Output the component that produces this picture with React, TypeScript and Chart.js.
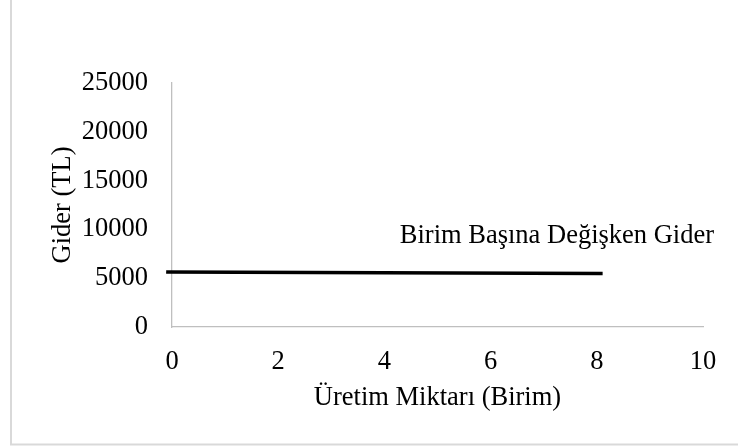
import React, { useEffect, useRef } from "react";
import { Chart, registerables } from "chart.js";

Chart.register(...registerables);

const seriesName = "Birim Başına Değişken Gider";
const xValues = [-0.11, 8.11];
const yValues = [5630, 5485];
const xTicks = [0, 2, 4, 6, 8, 10];
const yTicks = [0, 5000, 10000, 15000, 20000, 25000];
const xTitle = "Üretim Miktarı (Birim)";
const yTitle = "Gider (TL)";
const labelAt = { x: 4.29, y: 9350 };

const FONT = "'Liberation Serif', 'Times New Roman', serif";
const FS = 26.5;

export default function App() {
  const ref = useRef<HTMLCanvasElement | null>(null);
  useEffect(() => {
    if (!ref.current) return;
    const annotation = {
      id: "annot",
      beforeDraw(chart: any) {
        const ctx = chart.ctx;
        ctx.save();
        ctx.strokeStyle = "#d9d9d9";
        ctx.lineWidth = 2;
        ctx.beginPath();
        ctx.moveTo(11, 0);
        ctx.lineTo(11, 444.5);
        ctx.lineTo(738, 444.5);
        ctx.stroke();
        ctx.restore();
      },
      afterDatasetsDraw(chart: any) {
        const ctx = chart.ctx;
        const xs = chart.scales.x;
        const ys = chart.scales.y;
        ctx.save();
        ctx.font = `${FS}px ${FONT}`;
        ctx.fillStyle = "#000";
        ctx.textAlign = "left";
        ctx.textBaseline = "middle";
        ctx.fillText(seriesName, xs.getPixelForValue(labelAt.x), ys.getPixelForValue(labelAt.y));
        ctx.restore();
      },
    };
    const chart = new Chart(ref.current, {
      type: "scatter",
      data: {
        datasets: [
          {
            label: seriesName,
            data: xValues.map((x, i) => ({ x, y: yValues[i] })),
            showLine: true,
            borderColor: "#000",
            borderWidth: 3.5,
            pointRadius: 0,
            clip: false as any,
          },
        ],
      },
      options: {
        animation: false,
        responsive: false,
        layout: { padding: { left: 47, right: 35, top: 83, bottom: 34 } },
        plugins: { legend: { display: false }, tooltip: { enabled: false } },
        scales: {
          x: {
            type: "linear",
            min: 0,
            max: 10,
            afterBuildTicks: (s: any) => {
              s.ticks = xTicks.map((v) => ({ value: v }));
            },
            afterFit: (s: any) => {
              s.height = 448 - 34 - 327;
            },
            grid: { display: false, drawTicks: false },
            border: { display: true, color: "#bfbfbf", width: 1.3 },
            ticks: {
              color: "#000",
              font: { family: FONT, size: FS },
              padding: 19,
              callback: (v: any) => String(v),
            },
            title: {
              display: true,
              text: xTitle,
              color: "#000",
              font: { family: FONT, size: FS },
              padding: 0,
            },
          },
          y: {
            type: "linear",
            min: 0,
            max: 25000,
            afterBuildTicks: (s: any) => {
              s.ticks = yTicks.map((v) => ({ value: v }));
            },
            afterFit: (s: any) => {
              s.width = 172 - 47;
            },
            grid: { display: false, drawTicks: false },
            border: { display: true, color: "#bfbfbf", width: 1.3 },
            ticks: {
              color: "#000",
              font: { family: FONT, size: FS },
              padding: 24,
              callback: (v: any) => String(v),
            },
            title: {
              display: true,
              text: yTitle,
              color: "#000",
              font: { family: FONT, size: FS },
              padding: 0,
            },
          },
        },
      },
      plugins: [annotation],
    });
    return () => chart.destroy();
  }, []);
  return (
    <div style={{ position: "fixed", left: 0, top: 0, width: 738, height: 448, background: "#fff" }}>
      <canvas ref={ref} width={738} height={448} style={{ display: "block" }} />
    </div>
  );
}
